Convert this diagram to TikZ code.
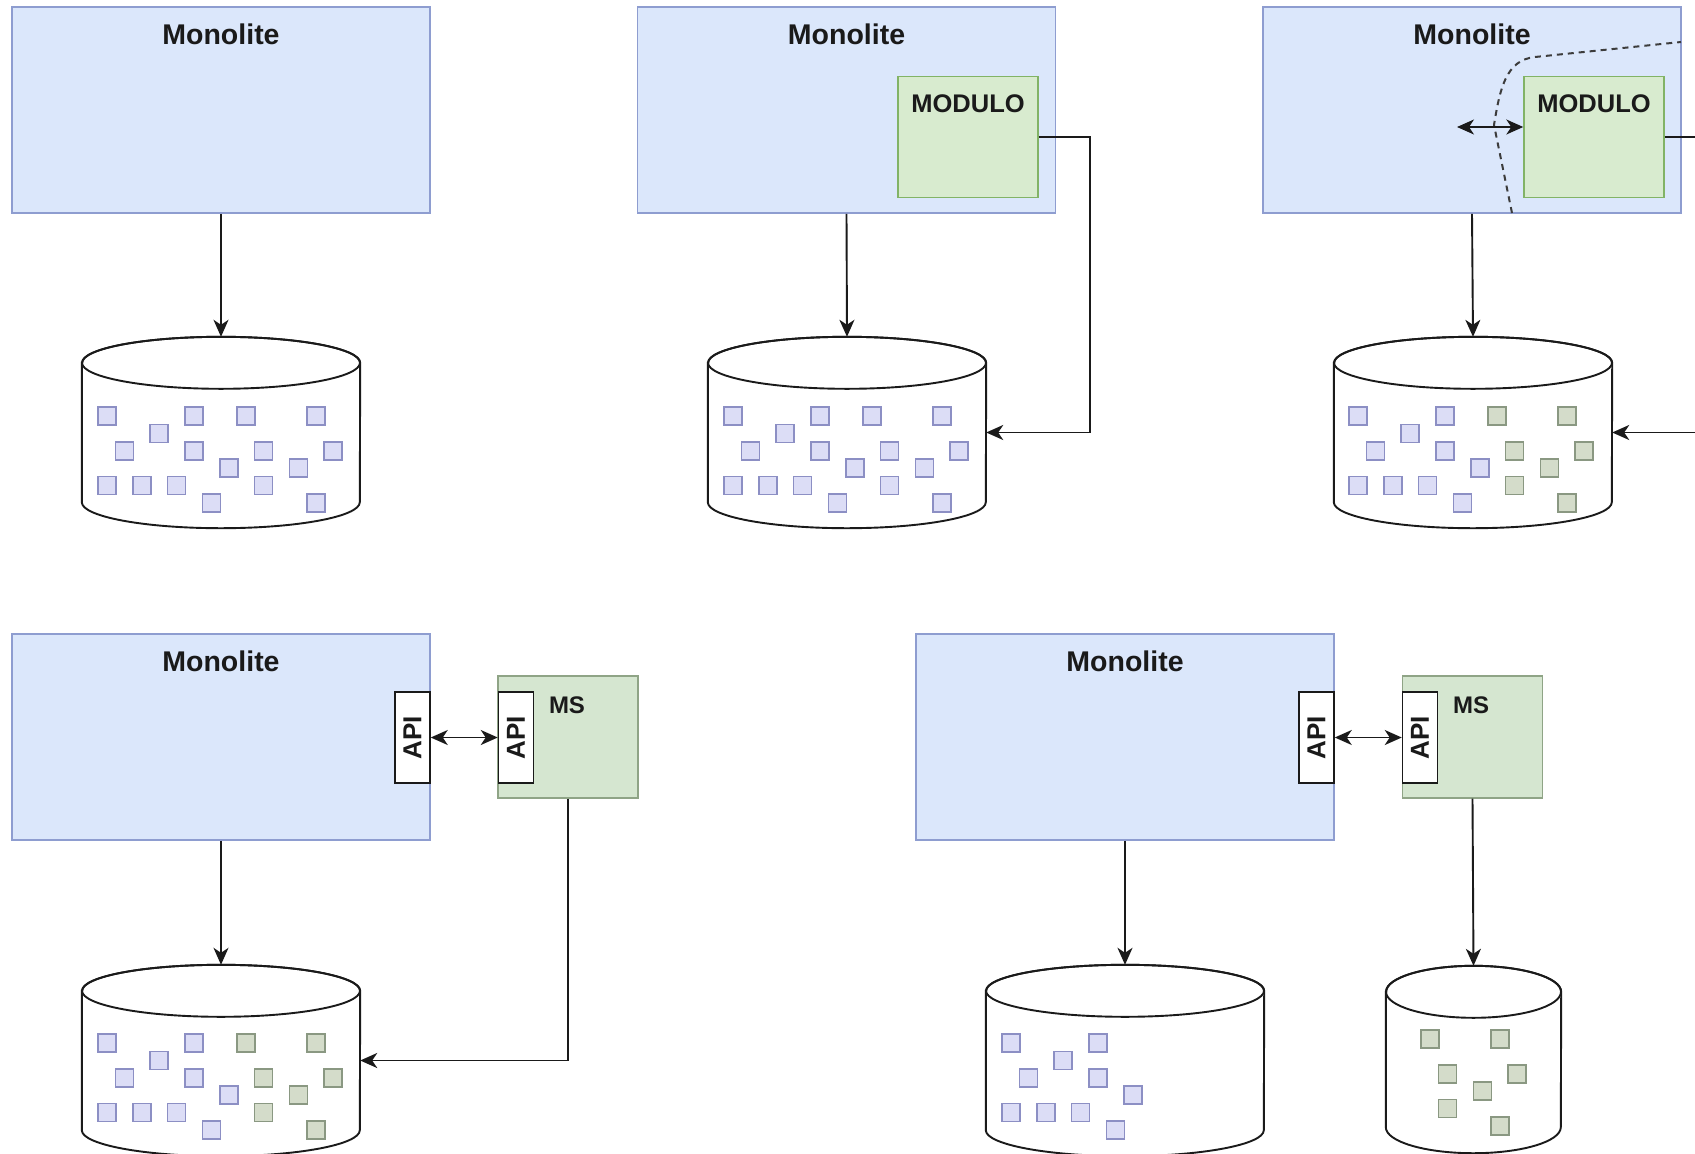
\documentclass[tikz,border=0pt]{standalone}
\usepackage{fontspec}
\setmainfont{Liberation Sans}
\usetikzlibrary{arrows.meta}

\definecolor{monofill}{HTML}{DBE7FB}
\definecolor{monoline}{HTML}{8E9DD0}
\definecolor{modfill}{HTML}{D8EBCF}
\definecolor{modline}{HTML}{82B366}
\definecolor{msfill}{HTML}{D5E6D0}
\definecolor{msline}{HTML}{8FA486}
\definecolor{sqbfill}{HTML}{DCDDF6}
\definecolor{sqbline}{HTML}{8C8FC4}
\definecolor{sqgfill}{HTML}{D4DCCA}
\definecolor{sqgline}{HTML}{8A9882}
\definecolor{ink}{HTML}{1A1A1A}

% square positions on a 17.4 grid: (column/row)
\def\Bset{0/0,5/0,3/1,1/2,5/2,7/3,0/4,2/4,4/4,6/5}
\def\Gset{8/0,12/0,9/2,13/2,11/3,9/4,12/5}

% cylinder outline over a named (invisible) area node; #2 = x radius
\newcommand\drawcyl[2]{%
  \path (#1.north west) ++(0,26) coordinate (#1-tl)
        (#1.south west) ++(0,-26) coordinate (#1-bl)
        (#1.north) ++(0,26) coordinate (#1-tc);
  \draw[cylline, fill=white] (#1-tl) -- (#1-bl)
     arc[start angle=180, end angle=360, x radius=#2pt, y radius=26pt]
     -- (#1.north east |- #1-tl)
     arc[start angle=0, end angle=180, x radius=#2pt, y radius=26pt] -- cycle;
  \draw[cylline] (#1-tc) ellipse[x radius=#2pt, y radius=26pt];
}
% records drawn inside a cylinder: origin x, origin y, set, style
\newcommand\records[4]{%
  \foreach \c/\r in #3 {
    \draw[#4] ({#1+\c*17.4-9},{#2+\r*17.4-9}) rectangle ++(18,18);
  }
}

\begin{document}
\begin{tikzpicture}[x=1pt, y=-1pt,
  mono/.style={draw=monoline, fill=monofill, line width=1.6pt,
    minimum width=418pt, minimum height=206pt, inner sep=0pt},
  title/.style={font=\bfseries\fontsize{28.5}{30}\selectfont, text=ink, inner sep=0pt},
  modbox/.style={draw=modline, fill=modfill, line width=1.4pt,
    minimum width=140pt, minimum height=121pt, inner sep=0pt},
  modlabel/.style={font=\bfseries\fontsize{25.5}{27}\selectfont, text=ink, inner sep=0pt},
  msbox/.style={draw=msline, fill=msfill, line width=1.4pt,
    minimum width=140pt, minimum height=122pt, inner sep=0pt},
  mslabel/.style={font=\bfseries\fontsize{24}{26}\selectfont, text=ink, inner sep=0pt},
  apibox/.style={draw=ink, fill=white, line width=1.5pt,
    minimum width=35pt, minimum height=91pt, inner sep=0pt},
  apilabel/.style={font=\bfseries\fontsize{26}{28}\selectfont, text=ink, rotate=90, inner sep=0pt},
  cylarea/.style={minimum width=278pt, minimum height=191pt, inner sep=0pt},
  smallcyl/.style={minimum width=175pt, minimum height=187pt, inner sep=0pt},
  cylline/.style={draw=ink, line width=1.9pt},
  sqb/.style={draw=sqbline, fill=sqbfill, line width=1.5pt},
  sqg/.style={draw=sqgline, fill=sqgfill, line width=1.5pt},
  wire/.style={draw=ink, line width=1.9pt},
  conn/.style={wire, -{Stealth[length=17pt, width=15pt, inset=5pt]}},
  both/.style={wire, {Stealth[length=17pt, width=15pt, inset=5pt]}-{Stealth[length=17pt, width=15pt, inset=5pt]}},
  boundary/.style={draw=ink!85, line width=2pt, dash pattern=on 6pt off 5pt}
]
\useasboundingbox (0,0) rectangle (1695,1154);
\clip (0,0) rectangle (1695,1154);
\fill[white] (0,0) rectangle (1695,1154);

% ---------- stage 1: monolith and its database ----------
\node[mono] (m1) at (221,110) {};
\node[title] (t1) at (221,34) {Monolite};
\node[cylarea] (c1) at (221,432.5) {};
\drawcyl{c1}{139}
\records{107}{416}{\Bset}{sqb}
\records{107}{416}{\Gset}{sqb}
\draw[conn] (m1.south) -- (c1.north);

% ---------- stage 2: module identified inside the monolith ----------
\node[mono] (m2) at (846.5,110) {};
\node[title] (t2) at (846.5,34) {Monolite};
\node[modbox] (mod2) at (968,137) {};
\node[modlabel] (ml2) at (968,104) {MODULO};
\node[cylarea] (c2) at (847,432.5) {};
\drawcyl{c2}{139}
\records{733}{416}{\Bset}{sqb}
\records{733}{416}{\Gset}{sqb}
\draw[conn] (m2.south) -- (c2.north);
\coordinate (k2) at (1090,300);
\draw[conn] (mod2.east) -| (k2) |- (c2.east);

% ---------- stage 3: module boundary and its own data ----------
\node[mono] (m3) at (1472,110) {};
\node[title] (t3) at (1472,34) {Monolite};
\node[modbox] (mod3) at (1594,137) {};
\node[modlabel] (ml3) at (1594,104) {MODULO};
\draw[boundary] (1512,213) -- (1494,125)
   .. controls (1500,88) and (1506,60) .. (1535,57) -- (1681,42);
\coordinate (d3) at (1457,127);
\draw[both] (d3) -- (d3 -| mod3.west);
\node[cylarea] (c3) at (1473,432.5) {};
\drawcyl{c3}{139}
\records{1358}{416}{\Bset}{sqb}
\records{1358}{416}{\Gset}{sqg}
\draw[conn] (m3.south) -- (c3.north);
\coordinate (o3a) at (1720,137);
\coordinate (o3b) at (1720,432.5);
\draw[wire] (mod3.east) -- (o3a);
\draw[conn] (o3b) -- (c3.east);

% ---------- stage 4: microservice behind an API, shared database ----------
\node[mono] (m4) at (221,737) {};
\node[title] (t4) at (221,661) {Monolite};
\node[apibox] (api4a) at (412.5,737.5) {};
\node[apilabel] at (api4a) {API};
\node[msbox] (ms4) at (568,737) {};
\node[apibox] (api4b) at (516,737.5) {};
\node[apilabel] at (api4b) {API};
\node[mslabel] (msl4) at (567,705) {MS};
\draw[both] (api4a.east) -- (api4b.west);
\node[cylarea] (c4) at (221,1060.5) {};
\drawcyl{c4}{139}
\records{107}{1043}{\Bset}{sqb}
\records{107}{1043}{\Gset}{sqg}
\draw[conn] (m4.south) -- (c4.north);
\draw[conn] (ms4.south) |- (c4.east);

% ---------- stage 5: microservice with its own database ----------
\node[mono] (m5) at (1125,737) {};
\node[title] (t5) at (1125,661) {Monolite};
\node[apibox] (api5a) at (1316.5,737.5) {};
\node[apilabel] at (api5a) {API};
\node[msbox] (ms5) at (1472.5,737) {};
\node[apibox] (api5b) at (1420,737.5) {};
\node[apilabel] at (api5b) {API};
\node[mslabel] (msl5) at (1471,705) {MS};
\draw[both] (api5a.east) -- (api5b.west);
\node[cylarea] (c5) at (1125,1060.5) {};
\drawcyl{c5}{139}
\records{1011}{1043}{\Bset}{sqb}
\draw[conn] (m5.south) -- (c5.north);
\node[smallcyl] (c6) at (1473.5,1059.5) {};
\drawcyl{c6}{87.5}
\records{1291}{1039}{\Gset}{sqg}
\draw[conn] (ms5.south) -- (c6.north);
\end{tikzpicture}
\end{document}
